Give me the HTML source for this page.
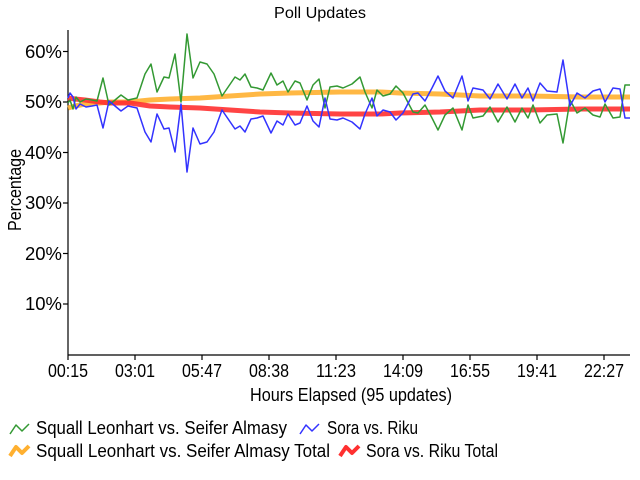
<!DOCTYPE html>
<html><head><style>body{margin:0;background:#fff}svg{display:block}text{font-family:"Liberation Sans Narrow","Liberation Sans",sans-serif;fill:#000}</style></head><body>
<svg width="640" height="480" viewBox="0 0 640 480">
<text x="320" y="18" font-size="16" text-anchor="middle" textLength="92" lengthAdjust="spacingAndGlyphs">Poll Updates</text>
<g stroke="#000" stroke-width="1.2">
<line x1="68" y1="30" x2="68" y2="355"/><line x1="68" y1="355" x2="630" y2="355"/>
<line x1="63" y1="51.5" x2="68" y2="51.5"/><line x1="63" y1="102" x2="68" y2="102"/><line x1="63" y1="152.5" x2="68" y2="152.5"/><line x1="63" y1="203" x2="68" y2="203"/><line x1="63" y1="253.5" x2="68" y2="253.5"/><line x1="63" y1="304" x2="68" y2="304"/>
<line x1="68" y1="355" x2="68" y2="360"/><line x1="135" y1="355" x2="135" y2="360"/><line x1="202" y1="355" x2="202" y2="360"/><line x1="269" y1="355" x2="269" y2="360"/><line x1="336" y1="355" x2="336" y2="360"/><line x1="403" y1="355" x2="403" y2="360"/><line x1="470" y1="355" x2="470" y2="360"/><line x1="537" y1="355" x2="537" y2="360"/><line x1="604" y1="355" x2="604" y2="360"/>
</g>
<g font-size="18" text-anchor="end">
<text x="62" y="58" textLength="37" lengthAdjust="spacingAndGlyphs">60%</text><text x="62" y="108" textLength="37" lengthAdjust="spacingAndGlyphs">50%</text><text x="62" y="159" textLength="37" lengthAdjust="spacingAndGlyphs">40%</text><text x="62" y="209" textLength="37" lengthAdjust="spacingAndGlyphs">30%</text><text x="62" y="260" textLength="37" lengthAdjust="spacingAndGlyphs">20%</text><text x="62" y="310" textLength="37" lengthAdjust="spacingAndGlyphs">10%</text>
</g>
<g font-size="18" text-anchor="middle">
<text x="68" y="377" textLength="40" lengthAdjust="spacingAndGlyphs">00:15</text><text x="135" y="377" textLength="40" lengthAdjust="spacingAndGlyphs">03:01</text><text x="202" y="377" textLength="40" lengthAdjust="spacingAndGlyphs">05:47</text><text x="269" y="377" textLength="40" lengthAdjust="spacingAndGlyphs">08:38</text><text x="336" y="377" textLength="40" lengthAdjust="spacingAndGlyphs">11:23</text><text x="403" y="377" textLength="40" lengthAdjust="spacingAndGlyphs">14:09</text><text x="470" y="377" textLength="40" lengthAdjust="spacingAndGlyphs">16:55</text><text x="537" y="377" textLength="40" lengthAdjust="spacingAndGlyphs">19:41</text><text x="604" y="377" textLength="40" lengthAdjust="spacingAndGlyphs">22:27</text>
<text x="351" y="401" textLength="202" lengthAdjust="spacingAndGlyphs">Hours Elapsed (95 updates)</text>
<text transform="translate(21,190) rotate(-90)" textLength="82" lengthAdjust="spacingAndGlyphs">Percentage</text>
</g>
<g fill="none" stroke-linejoin="round">
<polyline stroke="#ffb030" stroke-width="5" opacity="0.9" points="68,108 75,106 85,104 100,103 110,102 130,102 150,100 170,99 200,98 230,96 260,94 290,93 340,92 380,92 400,93 440,94 480,96 530,96 580,97 630,97"/>
<polyline stroke="#ff3030" stroke-width="5" opacity="0.9" points="68,98 75,99 85,100 100,102 110,103 130,103 150,106 170,107 200,108 230,110 260,112 290,113 340,114 380,114 400,113 440,112 480,110 530,110 580,109 630,109"/>
<polyline stroke="#339933" stroke-width="1.5" points="68,103 70,100 73,109 76,97 80,102 86,99 92,100 97,101 103,78 109,105 115,100 121,95 128,100 137,98 145,74 151,64 157,92 164,77 169,78 175,54 181,102 187,34 193,78 200,62 207,64 214,74 222,96 235,77 240,80 245,74 251,87 257,88 263,90 271,73 277,85 283,81 288,92 295,81 300,83 307,100 313,85 319,79 325,108 330,87 337,86 343,88 352,84 360,77 365,92 372,108 377,90 383,96 390,94 396,86 403,93 413,112 418,113 425,105 432,118 438,130 445,115 453,108 462,130 468,105 473,118 483,116 490,107 498,122 507,107 515,122 522,108 528,118 533,105 540,123 547,115 557,114 563,143 570,100 577,113 585,108 593,115 600,117 605,104 613,118 620,117 625,85 630,85"/>
<polyline stroke="#3333ff" stroke-width="1.5" points="68,98 70,93 73,97 76,109 80,104 86,107 92,106 97,105 103,128 109,101 115,106 121,111 128,106 137,108 145,132 151,142 157,114 164,129 169,128 175,152 181,104 187,172 193,128 200,144 207,142 214,132 222,110 235,129 240,126 245,132 251,119 257,118 263,116 271,133 277,121 283,125 288,114 295,125 300,123 307,106 313,121 319,127 325,98 330,119 337,120 343,118 352,122 360,129 365,114 372,98 377,116 383,110 390,112 396,120 403,113 413,94 418,93 425,101 432,88 438,76 445,91 453,98 462,76 468,101 473,88 483,90 490,99 498,84 507,99 515,84 522,98 528,88 533,101 540,83 547,91 557,92 563,60 570,106 577,93 585,98 593,91 600,89 605,102 613,88 620,89 625,118 630,118"/>
</g>
<g fill="none" stroke-linejoin="round">
<polyline stroke="#339933" stroke-width="1.5" points="10,434 16,425 22,431 29,424"/>
<polyline stroke="#3333ff" stroke-width="1.5" points="300,434 306,425 312,431 319,424"/>
<polyline stroke="#ffb030" stroke-width="4" points="10,456 16,447 22,453 29,446"/>
<polyline stroke="#ff3030" stroke-width="4" points="340,456 346,447 352,453 359,446"/>
</g>
<g font-size="18">
<text x="36" y="434" textLength="251" lengthAdjust="spacingAndGlyphs">Squall Leonhart vs. Seifer Almasy</text>
<text x="327" y="434" textLength="91" lengthAdjust="spacingAndGlyphs">Sora vs. Riku</text>
<text x="36" y="457" textLength="294" lengthAdjust="spacingAndGlyphs">Squall Leonhart vs. Seifer Almasy Total</text>
<text x="366" y="457" textLength="132" lengthAdjust="spacingAndGlyphs">Sora vs. Riku Total</text>
</g>
</svg>
</body></html>
